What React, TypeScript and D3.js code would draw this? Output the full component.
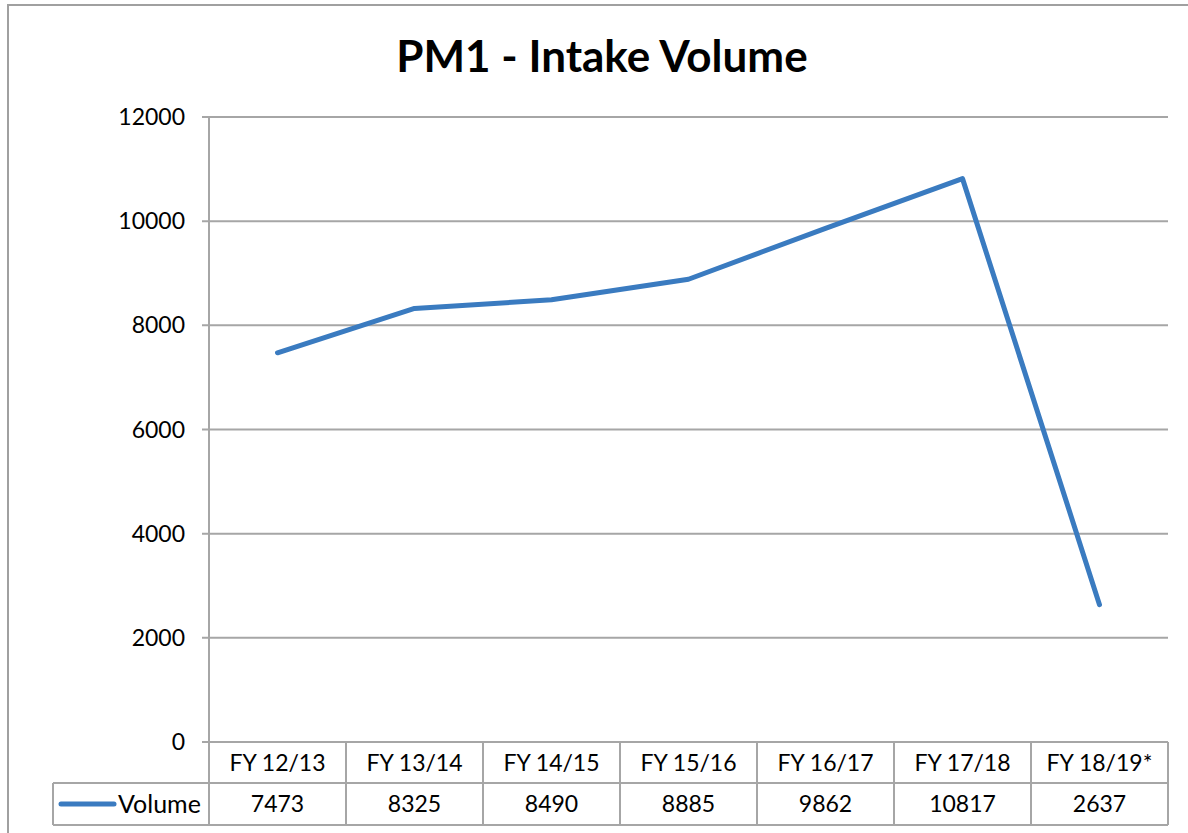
import React from "react";
import * as d3 from "d3";

const categories = ["FY 12/13", "FY 13/14", "FY 14/15", "FY 15/16", "FY 16/17", "FY 17/18", "FY 18/19*"];
const volume = [7473, 8325, 8490, 8885, 9862, 10817, 2637];
const yTicks = [0, 2000, 4000, 6000, 8000, 10000, 12000];
const seriesName = "Volume";
const title = "PM1 - Intake Volume";

const W = 1188, H = 833;
const left = 209, right = 1168, top = 117, bottom = 742;
const row1 = 783, row2 = 825, legendLeft = 53;
const font = "Lato, 'Open Sans', sans-serif";
const grid = "#A6A6A6";
const blue = "#3A7BC0";

export default function App() {
  const x = d3.scaleBand<string>().domain(categories).range([left, right]).padding(0);
  const y = d3.scaleLinear().domain([0, 12000]).range([bottom, top]);
  const line = d3
    .line<number>()
    .x((_, i) => (x(categories[i]) as number) + x.bandwidth() / 2)
    .y((d) => y(d));
  const bounds = [...categories.map((c) => x(c) as number), right];
  return (
    <svg width={W} height={H} style={{ position: "absolute", left: 0, top: 0, background: "#fff" }}>
      <rect x={8} y={5} width={1300} height={1000} fill="#fff" stroke="#A0A0A0" strokeWidth={2} />
      <text x={602} y={72} textAnchor="middle" fontFamily={font} fontWeight="bold" fontSize={44} fill="#000">
        {title}
      </text>
      {yTicks.map((t) => (
        <g key={t}>
          <line x1={202} x2={right} y1={y(t)} y2={y(t)} stroke={grid} strokeWidth={2} />
          <text x={185} y={y(t)} dy="0.35em" textAnchor="end" fontFamily={font} fontSize={23} fill="#000">
            {t}
          </text>
        </g>
      ))}
      <line x1={left} x2={left} y1={top} y2={row2} stroke={grid} strokeWidth={2} />
      {bounds.slice(1).map((b, i) => (
        <line key={i} x1={b} x2={b} y1={bottom} y2={row2} stroke={grid} strokeWidth={2} />
      ))}
      <line x1={legendLeft} x2={right} y1={row1} y2={row1} stroke={grid} strokeWidth={2} />
      <line x1={legendLeft} x2={right} y1={row2} y2={row2} stroke={grid} strokeWidth={2} />
      <line x1={legendLeft} x2={legendLeft} y1={row1} y2={row2} stroke={grid} strokeWidth={2} />
      {categories.map((c, i) => {
        const cx = (x(c) as number) + x.bandwidth() / 2;
        return (
          <g key={c}>
            <text x={cx} y={(bottom + row1) / 2} dy="0.35em" textAnchor="middle" fontFamily={font} fontSize={23} fill="#000">
              {c}
            </text>
            <text x={cx} y={(row1 + row2) / 2} dy="0.35em" textAnchor="middle" fontFamily={font} fontSize={23} fill="#000">
              {volume[i]}
            </text>
          </g>
        );
      })}
      <line x1={61} x2={114} y1={804} y2={804} stroke={blue} strokeWidth={5} strokeLinecap="round" />
      <text x={118} y={804} dy="0.35em" fontFamily={font} fontSize={25} fill="#000">
        {seriesName}
      </text>
      <path d={line(volume) || ""} fill="none" stroke={blue} strokeWidth={5} strokeLinecap="round" strokeLinejoin="round" />
    </svg>
  );
}
